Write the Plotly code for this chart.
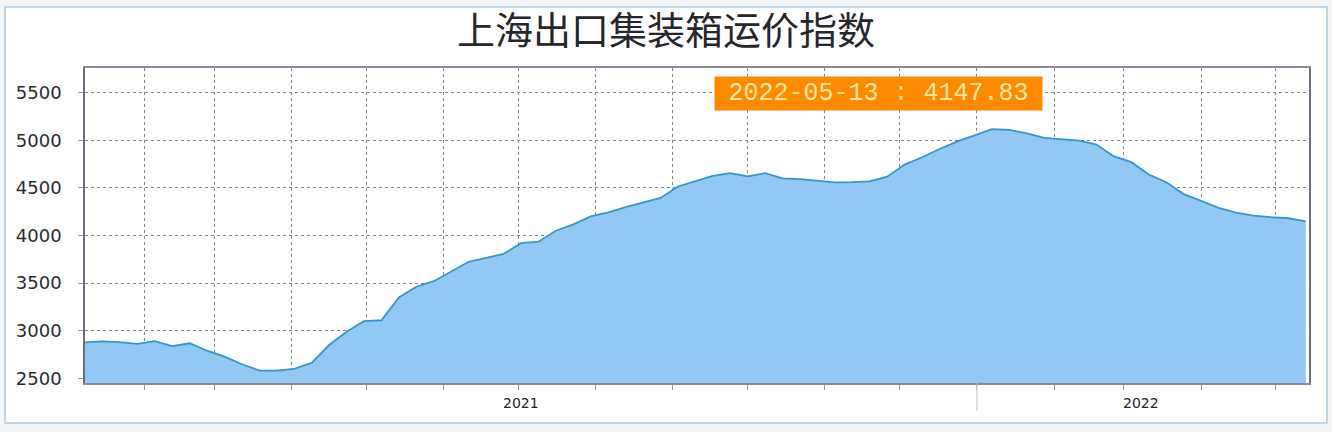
import plotly.graph_objects as go

# ---------------- data ----------------
dates = [
    "2021-01-08", "2021-01-15", "2021-01-22", "2021-01-29", "2021-02-05", "2021-02-12",
    "2021-02-19", "2021-02-26", "2021-03-05", "2021-03-12", "2021-03-19", "2021-03-26",
    "2021-04-02", "2021-04-09", "2021-04-16", "2021-04-23", "2021-04-30", "2021-05-07",
    "2021-05-14", "2021-05-21", "2021-05-28", "2021-06-04", "2021-06-11", "2021-06-18",
    "2021-06-25", "2021-07-02", "2021-07-09", "2021-07-16", "2021-07-23", "2021-07-30",
    "2021-08-06", "2021-08-13", "2021-08-20", "2021-08-27", "2021-09-03", "2021-09-10",
    "2021-09-17", "2021-09-24", "2021-10-01", "2021-10-08", "2021-10-15", "2021-10-22",
    "2021-10-29", "2021-11-05", "2021-11-12", "2021-11-19", "2021-11-26", "2021-12-03",
    "2021-12-10", "2021-12-17", "2021-12-24", "2021-12-31", "2022-01-07", "2022-01-14",
    "2022-01-21", "2022-01-28", "2022-02-04", "2022-02-11", "2022-02-18", "2022-02-25",
    "2022-03-04", "2022-03-11", "2022-03-18", "2022-03-25", "2022-04-01", "2022-04-08",
    "2022-04-15", "2022-04-22", "2022-04-29", "2022-05-06", "2022-05-13",
]
index_values = [
    2877, 2888, 2880, 2862, 2890, 2838,
    2868, 2790, 2728, 2648, 2582, 2580,
    2600, 2662, 2850, 2989, 3100, 3110,
    3350, 3462, 3520, 3625, 3724, 3765,
    3806, 3920, 3935, 4050, 4117, 4200,
    4243, 4298, 4345, 4395, 4515, 4575,
    4627, 4655, 4622, 4655, 4600, 4593,
    4578, 4558, 4561, 4568, 4618, 4745,
    4822, 4908, 4985, 5055, 5118, 5110,
    5072, 5025, 5010, 4996, 4955, 4830,
    4770, 4640, 4558, 4435, 4363, 4290,
    4240, 4208, 4192, 4181, 4147.83,
]
month_ticks = [
    "2021-02-01", "2021-03-01", "2021-04-01", "2021-05-01", "2021-06-01", "2021-07-01",
    "2021-08-01", "2021-09-01", "2021-10-01", "2021-11-01", "2021-12-01", "2022-01-01",
    "2022-02-01", "2022-03-01", "2022-04-01", "2022-05-01",
]
y_ticks = [2500, 3000, 3500, 4000, 4500, 5000, 5500]
year_labels = ["2021", "2022"]
year_label_dates = ["2021-07-02", "2022-03-08"]
year_boundary = "2022-01-01"
title_text = "上海出口集装箱运价指数"

# ---------------- figure ----------------
fig = go.Figure()
fig.add_trace(go.Scatter(
    x=dates, y=index_values, mode="lines",
    line=dict(color="#3596CC", width=1.8),
    fill="tozeroy", fillcolor="#92C8F4",
    hoverinfo="x+y", showlegend=False,
))

grid = "#85858f"
fig.update_xaxes(
    type="date",
    range=["2021-01-08", "2022-05-14 07:00"],
    tickmode="array", tickvals=month_ticks, ticktext=[""] * len(month_ticks),
    showgrid=True, gridcolor=grid, griddash="3px,3px", gridwidth=1,
    ticks="outside", ticklen=5, tickcolor="#9a9aa5",
    showline=True, linecolor="#8a8c9e", linewidth=1.5, mirror=True,
    zeroline=False, fixedrange=True,
)
fig.update_yaxes(
    range=[2451, 5759],
    tickmode="array", tickvals=y_ticks,
    showgrid=True, gridcolor=grid, griddash="3px,3px", gridwidth=1,
    ticks="outside", ticklen=5, tickcolor="#9a9aa5",
    tickfont=dict(family="DejaVu Sans", size=18, color="#2a2a33"),
    ticklabelstandoff=13,
    showline=True, linecolor="#6f6a80", linewidth=1.5, mirror=True,
    zeroline=False, fixedrange=True,
)

annotations = []
for lab, d in zip(year_labels, year_label_dates):
    annotations.append(dict(
        x=d, xref="x", y=-0.0635, yref="paper", text=lab, showarrow=False,
        xanchor="center", yanchor="middle",
        font=dict(family="DejaVu Sans", size=14, color="#222230"),
    ))
annotations.append(dict(
    x=0.6483, xref="paper", y=0.9206, yref="paper",
    text=f"{dates[-1]} : {index_values[-1]:.2f}",
    showarrow=False, xanchor="center", yanchor="middle",
    bgcolor="#FF8A00", borderpad=2, width=323, height=29,
    font=dict(family="Liberation Mono", size=25, color="#FFE9A0"),
))

shapes = [
    dict(type="rect", xref="paper", yref="paper",
         x0=-0.0654, x1=1.0147, y0=-0.127, y1=1.1937,
         fillcolor="white", line=dict(color="#A9CDE8", width=1.5), layer="below"),
    dict(type="line", xref="x", yref="paper",
         x0=year_boundary, x1=year_boundary, y0=0, y1=-0.089,
         line=dict(color="#c0c0c8", width=1)),
]

fig.update_layout(
    width=1332, height=432,
    margin=dict(l=85, r=23, t=68, b=49),
    paper_bgcolor="#F4F5F6", plot_bgcolor="white",
    title=dict(text=title_text, x=0.5, xanchor="center", xref="container",
               y=0.93, yanchor="middle", yref="container",
               font=dict(family="Noto Sans CJK SC", size=38, color="#26262c")),
    annotations=annotations, shapes=shapes,
    showlegend=False,
)

fig.write_html(
    "out.html",
    config={"displayModeBar": False},
    post_script="document.body.style.margin='0';document.body.style.padding='0';document.body.style.overflow='hidden';",
)
